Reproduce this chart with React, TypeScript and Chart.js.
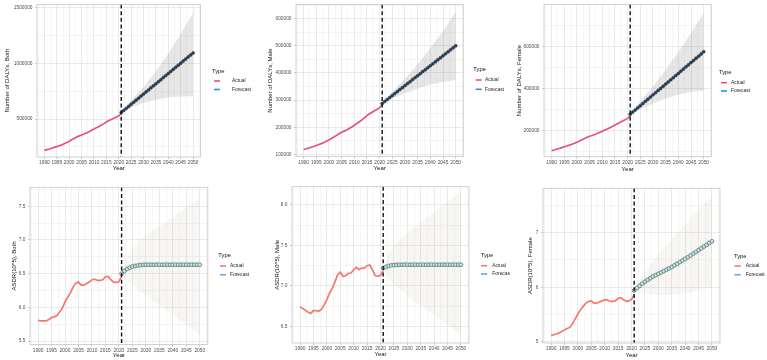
import React, { useEffect, useRef } from 'react';
import { Chart, registerables } from 'chart.js';
Chart.register(...registerables);

const FONT = '"Liberation Sans", Arial, Helvetica, sans-serif';

// ---------- categories ----------
const actualYears = [1990, 1991, 1992, 1993, 1994, 1995, 1996, 1997, 1998, 1999, 2000, 2001, 2002, 2003, 2004, 2005, 2006, 2007, 2008, 2009, 2010, 2011, 2012, 2013, 2014, 2015, 2016, 2017, 2018, 2019, 2020, 2021];
const forecastYears = [2021, 2022, 2023, 2024, 2025, 2026, 2027, 2028, 2029, 2030, 2031, 2032, 2033, 2034, 2035, 2036, 2037, 2038, 2039, 2040, 2041, 2042, 2043, 2044, 2045, 2046, 2047, 2048, 2049, 2050];
const bandYears = [2021, 2023, 2025, 2030, 2035, 2040, 2045, 2050];
const xTickValues = [1990, 1995, 2000, 2005, 2010, 2015, 2020, 2025, 2030, 2035, 2040, 2045, 2050];
const xTickLabels = ['1990', '1995', '2000', '2005', '2010', '2015', '2020', '2025', '2030', '2035', '2040', '2045', '2050'];
const cutYear = 2021;
const legendTitle = 'Type';
const legendLabels = ['Actual', 'Forecast'];

// ---------- Number of DALYs, Both ----------
const dalyBothActual = [220000, 226000, 232000, 239000, 246000, 253000, 261000, 269000, 279000, 290000, 302000, 315000, 327000, 339000, 350000, 358000, 366000, 376000, 388000, 400000, 411000, 423000, 435000, 447000, 460000, 474000, 488000, 498000, 508000, 519000, 530000, 548000];
const dalyBothForecast = [560000, 578000, 597000, 615000, 634000, 652000, 671000, 689000, 708000, 726000, 745000, 763000, 782000, 800000, 818000, 837000, 855000, 874000, 892000, 911000, 929000, 948000, 966000, 985000, 1003000, 1022000, 1040000, 1059000, 1077000, 1095000];
const dalyBothUpper = [560000, 612000, 670000, 790000, 930000, 1090000, 1265000, 1458000];
const dalyBothLower = [560000, 585000, 605000, 645000, 675000, 695000, 703000, 705000];
const dalyBothYTicks = [500000, 1000000, 1500000];
const dalyBothYLabels = ['500000', '1000000', '1500000'];

// ---------- Number of DALYs, Male ----------
const dalyMaleActual = [118000, 120500, 123000, 126000, 129000, 132500, 136000, 139500, 143500, 148000, 153000, 158500, 164000, 170000, 176000, 181000, 185500, 190000, 195500, 201000, 207000, 213500, 220000, 227000, 234500, 242500, 249500, 255000, 260500, 266000, 272000, 281000];
const dalyMaleForecast = [287500, 295000, 302000, 309500, 317000, 324000, 331500, 339000, 346000, 353500, 361000, 368000, 375500, 383000, 390000, 397500, 405000, 412000, 419500, 427000, 434000, 441500, 449000, 456000, 463500, 471000, 478000, 485500, 493000, 500000];
const dalyMaleUpper = [287500, 308000, 330000, 380000, 432000, 492000, 555000, 626000];
const dalyMaleLower = [287500, 297000, 305000, 325000, 342000, 357000, 367000, 373000];
const dalyMaleYTicks = [100000, 200000, 300000, 400000, 500000, 600000];
const dalyMaleYLabels = ['100000', '200000', '300000', '400000', '500000', '600000'];

// ---------- Number of DALYs, Female ----------
const dalyFemaleActual = [106000, 109000, 112500, 116000, 120000, 124000, 128000, 132000, 136500, 141000, 146000, 152000, 158000, 164000, 169500, 174000, 178000, 182500, 187500, 192500, 198000, 203500, 209000, 215000, 221000, 227500, 234000, 240500, 246500, 252500, 259000, 270000];
const dalyFemaleForecast = [278500, 289000, 299000, 309500, 319500, 330000, 340000, 350500, 360500, 371000, 381000, 391500, 401500, 412000, 422000, 432000, 442500, 452500, 463000, 473000, 483500, 493500, 504000, 514000, 524500, 534500, 545000, 555000, 565500, 576000];
const dalyFemaleUpper = [278500, 308000, 340000, 412000, 490000, 575000, 665000, 760000];
const dalyFemaleLower = [278500, 291000, 302000, 330000, 353000, 372000, 385000, 392000];
const dalyFemaleYTicks = [200000, 400000, 600000];
const dalyFemaleYLabels = ['200000', '400000', '600000'];

// ---------- ASDR, Both ----------
const asdrBothActual = [5.81, 5.8, 5.8, 5.8, 5.82, 5.85, 5.86, 5.88, 5.93, 5.99, 6.08, 6.15, 6.22, 6.3, 6.36, 6.375, 6.33, 6.33, 6.35, 6.375, 6.41, 6.42, 6.4, 6.4, 6.41, 6.455, 6.46, 6.41, 6.375, 6.37, 6.38, 6.46];
const asdrBothForecast = [6.5, 6.54, 6.57, 6.59, 6.605, 6.615, 6.622, 6.627, 6.63, 6.632, 6.632, 6.632, 6.632, 6.632, 6.632, 6.632, 6.632, 6.632, 6.632, 6.632, 6.632, 6.632, 6.632, 6.632, 6.632, 6.632, 6.632, 6.632, 6.632, 6.632];
const asdrBothUpper = [6.5, 6.74, 6.87, 7.07, 7.2, 7.34, 7.48, 7.62];
const asdrBothLower = [6.5, 6.4, 6.33, 6.18, 6.03, 5.89, 5.74, 5.6];
const asdrBothYTicks = [5.5, 6.0, 6.5, 7.0, 7.5];
const asdrBothYLabels = ['5.5', '6.0', '6.5', '7.0', '7.5'];

// ---------- ASDR, Male ----------
const asdrMaleActual = [6.745, 6.72, 6.7, 6.675, 6.66, 6.695, 6.695, 6.69, 6.71, 6.765, 6.83, 6.91, 6.97, 7.05, 7.135, 7.17, 7.12, 7.125, 7.155, 7.16, 7.2, 7.23, 7.2, 7.22, 7.22, 7.25, 7.26, 7.2, 7.125, 7.12, 7.13, 7.19];
const asdrMaleForecast = [7.22, 7.235, 7.247, 7.254, 7.258, 7.26, 7.261, 7.262, 7.262, 7.262, 7.262, 7.262, 7.262, 7.262, 7.262, 7.262, 7.262, 7.262, 7.262, 7.262, 7.262, 7.262, 7.262, 7.262, 7.262, 7.262, 7.262, 7.262, 7.262, 7.262];
const asdrMaleUpper = [7.22, 7.4, 7.5, 7.66, 7.78, 7.91, 8.04, 8.16];
const asdrMaleLower = [7.22, 7.1, 7.03, 6.88, 6.76, 6.64, 6.52, 6.4];
const asdrMaleYTicks = [6.5, 7.0, 7.5, 8.0];
const asdrMaleYLabels = ['6.5', '7.0', '7.5', '8.0'];

// ---------- ASDR, Female ----------
const asdrFemaleActual = [5.115, 5.13, 5.145, 5.165, 5.19, 5.22, 5.245, 5.265, 5.33, 5.42, 5.51, 5.59, 5.65, 5.71, 5.74, 5.75, 5.71, 5.71, 5.73, 5.75, 5.77, 5.77, 5.74, 5.74, 5.75, 5.8, 5.81, 5.77, 5.74, 5.75, 5.78, 5.86];
const asdrFemaleForecast = [5.94, 5.985, 6.025, 6.065, 6.1, 6.135, 6.165, 6.195, 6.22, 6.245, 6.27, 6.295, 6.32, 6.345, 6.37, 6.4, 6.43, 6.46, 6.49, 6.52, 6.55, 6.58, 6.615, 6.645, 6.68, 6.71, 6.745, 6.775, 6.81, 6.84];
const asdrFemaleUpper = [5.94, 6.12, 6.27, 6.6, 6.88, 7.15, 7.42, 7.68];
const asdrFemaleLower = [5.94, 5.9, 5.88, 5.86, 5.86, 5.89, 5.94, 6.0];
const asdrFemaleYTicks = [5, 6, 7];
const asdrFemaleYLabels = ['5', '6', '7'];

type Legend = { tx: number; ty: number; k1: number; k2: number; r1: number; r2: number; lx: number };
type PanelCfg = {
  cell: [number, number, number, number];
  plot: { l: number; t: number; r: number; b: number };
  yMin: number; yMax: number;
  yTicks: number[]; yLabels: string[];
  yTitle: string; yTitleX: number; yearY: number;
  actual: number[]; forecast: number[]; upper: number[]; lower: number[];
  legend: Legend;
  top: boolean;
};

const panels: PanelCfg[] = [
  { cell: [0, 0, 255, 180], plot: { l: 37, t: 3, r: 200.5, b: 157 }, yMin: 160000, yMax: 1530000,
    yTicks: dalyBothYTicks, yLabels: dalyBothYLabels, yTitle: 'Number of DALYs, Both', yTitleX: 7.7, yearY: 168.5,
    actual: dalyBothActual, forecast: dalyBothForecast, upper: dalyBothUpper, lower: dalyBothLower,
    legend: { tx: 212, ty: 71, k1: 214, k2: 220, r1: 81, r2: 89.5, lx: 232 }, top: true },
  { cell: [255, 0, 255, 180], plot: { l: 296, t: 3, r: 463.3, b: 156.5 }, yMin: 92000, yMax: 652000,
    yTicks: dalyMaleYTicks, yLabels: dalyMaleYLabels, yTitle: 'Number of DALYs, Male', yTitleX: 270, yearY: 168.3,
    actual: dalyMaleActual, forecast: dalyMaleForecast, upper: dalyMaleUpper, lower: dalyMaleLower,
    legend: { tx: 473.3, ty: 69.3, k1: 475.7, k2: 481.7, r1: 80, r2: 89.3, lx: 485 }, top: true },
  { cell: [510, 0, 257, 180], plot: { l: 544, t: 3, r: 711.3, b: 156.7 }, yMin: 77000, yMax: 800000,
    yTicks: dalyFemaleYTicks, yLabels: dalyFemaleYLabels, yTitle: 'Number of DALYs, Female', yTitleX: 519.3, yearY: 169.3,
    actual: dalyFemaleActual, forecast: dalyFemaleForecast, upper: dalyFemaleUpper, lower: dalyFemaleLower,
    legend: { tx: 719, ty: 72, k1: 721, k2: 727, r1: 82.7, r2: 91, lx: 731 }, top: true },
  { cell: [0, 180, 255, 180], plot: { l: 30, t: 187.3, r: 207.8, b: 344.5 }, yMin: 5.45, yMax: 7.78,
    yTicks: asdrBothYTicks, yLabels: asdrBothYLabels, yTitle: 'ASDR(10^5), Both', yTitleX: 14, yearY: 355.5,
    actual: asdrBothActual, forecast: asdrBothForecast, upper: asdrBothUpper, lower: asdrBothLower,
    legend: { tx: 218.3, ty: 255.7, k1: 220, k2: 226, r1: 266, r2: 274.7, lx: 230 }, top: false },
  { cell: [255, 180, 255, 180], plot: { l: 292, t: 186.7, r: 469, b: 343 }, yMin: 6.295, yMax: 8.226,
    yTicks: asdrMaleYTicks, yLabels: asdrMaleYLabels, yTitle: 'ASDR(10^5), Male', yTitleX: 277.3, yearY: 354.5,
    actual: asdrMaleActual, forecast: asdrMaleForecast, upper: asdrMaleUpper, lower: asdrMaleLower,
    legend: { tx: 480.7, ty: 255.3, k1: 481, k2: 487.3, r1: 265.7, r2: 274, lx: 492.3 }, top: false },
  { cell: [510, 180, 257, 180], plot: { l: 543, t: 188.3, r: 720, b: 343 }, yMin: 4.98, yMax: 7.81,
    yTicks: asdrFemaleYTicks, yLabels: asdrFemaleYLabels, yTitle: 'ASDR(10^5), Female', yTitleX: 530, yearY: 355,
    actual: asdrFemaleActual, forecast: asdrFemaleForecast, upper: asdrFemaleUpper, lower: asdrFemaleLower,
    legend: { tx: 734, ty: 256, k1: 734.5, k2: 740.7, r1: 266, r2: 274.7, lx: 745.7 }, top: false },
];

const X_MIN = 1987;
const X_MAX = 2053;

function withMinors(major: number[], min: number, max: number) {
  const step = major[1] - major[0];
  const out: { value: number; minor: boolean }[] = major.filter(v => v >= min && v <= max).map(v => ({ value: v, minor: false }));
  for (let v = major[0] - step / 2; v <= major[major.length - 1] + step / 2 + 1e-9; v += step) {
    if (v >= min && v <= max) out.push({ value: v, minor: true });
  }
  return out.sort((a, b) => a.value - b.value);
}

const TICK_SIZE = 4.8;
const TITLE_SIZE = 6;

function Panel({ cfg }: { cfg: PanelCfg }) {
  const ref = useRef<HTMLCanvasElement | null>(null);
  useEffect(() => {
    if (!ref.current) return;
    const [cx, cy, cw, ch] = cfg.cell;
    const { l, t, r, b } = cfg.plot;
    const pts = (xs: number[], ys: number[]) => xs.map((x, i) => ({ x, y: ys[i] }));
    const xAll = withMinors(xTickValues, X_MIN, X_MAX);
    const yAll = withMinors(cfg.yTicks, cfg.yMin, cfg.yMax);
    const actColor = cfg.top ? '#e5527a' : '#f8766d';
    const fcKeyColor = cfg.top ? '#2f8fd8' : '#6fa6d6';
    const bandColor = cfg.top ? 'rgba(128,128,128,0.2)' : 'rgba(190,170,140,0.1)';
    const majorGrid = '#e0e0e0';
    const minorGrid = '#ebebeb';
    const lh = TITLE_SIZE * 1.2;

    const decor = {
      id: 'decor' + cx + '_' + cy,
      afterDatasetsDraw(chart: any) {
        const ctx = chart.ctx;
        const xs = chart.scales.x;
        const area = chart.chartArea;
        const px = xs.getPixelForValue(cutYear);
        ctx.save();
        ctx.strokeStyle = '#111';
        ctx.lineWidth = 1.4;
        ctx.setLineDash([4, 2.6]);
        ctx.beginPath();
        ctx.moveTo(px, area.top);
        ctx.lineTo(px, area.bottom);
        ctx.stroke();
        ctx.restore();
      },
      afterDraw(chart: any) {
        const ctx = chart.ctx;
        const area = chart.chartArea;
        ctx.save();
        ctx.strokeStyle = '#c6c6c6';
        ctx.lineWidth = 0.8;
        ctx.strokeRect(area.left, area.top, area.right - area.left, area.bottom - area.top);
        const lg = cfg.legend;
        ctx.fillStyle = '#111';
        ctx.textBaseline = 'middle';
        ctx.textAlign = 'left';
        ctx.font = `5.8px ${FONT}`;
        ctx.fillText(legendTitle, lg.tx - cx, lg.ty - cy);
        ctx.lineWidth = 1.6;
        ctx.strokeStyle = actColor;
        ctx.beginPath();
        ctx.moveTo(lg.k1 - cx, lg.r1 - cy);
        ctx.lineTo(lg.k2 - cx, lg.r1 - cy);
        ctx.stroke();
        ctx.strokeStyle = fcKeyColor;
        ctx.beginPath();
        ctx.moveTo(lg.k1 - cx, lg.r2 - cy);
        ctx.lineTo(lg.k2 - cx, lg.r2 - cy);
        ctx.stroke();
        ctx.font = `4.9px ${FONT}`;
        ctx.fillStyle = '#222';
        ctx.fillText(legendLabels[0], lg.lx - cx, lg.r1 - cy);
        ctx.fillText(legendLabels[1], lg.lx - cx, lg.r2 - cy);
        ctx.restore();
      },
    };

    const chart = new Chart(ref.current, {
      type: 'line',
      data: {
        datasets: [
          {
            label: 'Forecast',
            data: pts(forecastYears, cfg.forecast),
            borderColor: cfg.top ? '#2c3e50' : '#4e7878',
            borderWidth: cfg.top ? 1.3 : 0.8,
            pointRadius: cfg.top ? 1.5 : 1.9,
            pointBackgroundColor: cfg.top ? '#2c3e50' : '#d3e3df',
            pointBorderColor: cfg.top ? '#2c3e50' : '#4e7878',
            pointBorderWidth: cfg.top ? 0.6 : 0.8,
            fill: false,
            tension: 0,
          },
          {
            label: 'Actual',
            data: pts(actualYears, cfg.actual),
            borderColor: actColor,
            borderWidth: 1.7,
            pointRadius: 0,
            fill: false,
            tension: 0,
          },
          {
            label: 'upper',
            data: pts(bandYears, cfg.upper),
            borderColor: 'transparent',
            borderWidth: 0,
            pointRadius: 0,
            fill: false,
            tension: 0.3,
          },
          {
            label: 'lower',
            data: pts(bandYears, cfg.lower),
            borderColor: 'transparent',
            backgroundColor: bandColor,
            borderWidth: 0,
            pointRadius: 0,
            fill: '-1',
            tension: 0.3,
          },
        ],
      },
      options: {
        responsive: false,
        animation: false,
        devicePixelRatio: 1,
        events: [],
        layout: { padding: { left: 0, top: t - cy, right: cx + cw - r, bottom: 0 } },
        plugins: { legend: { display: false }, tooltip: { enabled: false } },
        scales: {
          x: {
            type: 'linear',
            min: X_MIN,
            max: X_MAX,
            bounds: 'data',
            afterBuildTicks: (s: any) => { s.ticks = xAll.map(o => ({ ...o })); },
            afterFit: (s: any) => { s.height = cy + ch - b; s.paddingLeft = 0; s.paddingRight = 0; },
            ticks: {
              autoSkip: false, maxRotation: 0, minRotation: 0, padding: 1,
              font: { family: FONT, size: TICK_SIZE }, color: '#4d4d4d',
              callback: (v: any, i: number, ticks: any[]) => {
                if (ticks[i] && ticks[i].minor) return '';
                const k = xTickValues.indexOf(Number(v));
                return k >= 0 ? xTickLabels[k] : '';
              },
            },
            grid: {
              color: (c: any) => (c.tick && c.tick.minor ? minorGrid : majorGrid),
              lineWidth: (c: any) => (c.tick && c.tick.minor ? 0.5 : 0.7),
              tickLength: 2,
              tickColor: (c: any) => (c.tick && c.tick.minor ? 'rgba(0,0,0,0)' : '#b3b3b3'),
            },
            border: { display: false },
            title: {
              display: true, text: 'Year', color: '#111',
              font: { family: FONT, size: TITLE_SIZE },
              padding: { top: 0, bottom: Math.max(0, cy + ch - cfg.yearY - lh / 2) },
            },
          },
          y: {
            type: 'linear',
            min: cfg.yMin,
            max: cfg.yMax,
            bounds: 'data',
            afterBuildTicks: (s: any) => { s.ticks = yAll.map(o => ({ ...o })); },
            afterFit: (s: any) => { s.width = l - cx; s.paddingTop = 0; s.paddingBottom = 0; },
            ticks: {
              autoSkip: false, padding: 2.5,
              font: { family: FONT, size: TICK_SIZE }, color: '#4d4d4d',
              callback: (v: any, i: number, ticks: any[]) => {
                if (ticks[i] && ticks[i].minor) return '';
                const k = cfg.yTicks.indexOf(Number(v));
                return k >= 0 ? cfg.yLabels[k] : '';
              },
            },
            grid: {
              color: (c: any) => (c.tick && c.tick.minor ? minorGrid : majorGrid),
              lineWidth: (c: any) => (c.tick && c.tick.minor ? 0.5 : 0.7),
              tickLength: 2,
              tickColor: (c: any) => (c.tick && c.tick.minor ? 'rgba(0,0,0,0)' : '#b3b3b3'),
            },
            border: { display: false },
            title: {
              display: true, text: cfg.yTitle, color: '#111',
              font: { family: FONT, size: TITLE_SIZE },
              padding: { top: Math.max(0, cfg.yTitleX - cx - lh / 2), bottom: 0 },
            },
          },
        },
      } as any,
      plugins: [decor],
    });
    return () => chart.destroy();
  }, [cfg]);
  const [cx, cy, cw, ch] = cfg.cell;
  return (
    <canvas
      ref={ref}
      width={cw}
      height={ch}
      style={{ position: 'absolute', left: cx, top: cy, width: cw, height: ch, display: 'block' }}
    />
  );
}

export default function App() {
  return (
    <div style={{ position: 'absolute', left: 0, top: 0, width: 767, height: 360, background: '#fff', overflow: 'hidden' }}>
      {panels.map((p, i) => (
        <Panel key={i} cfg={p} />
      ))}
    </div>
  );
}
